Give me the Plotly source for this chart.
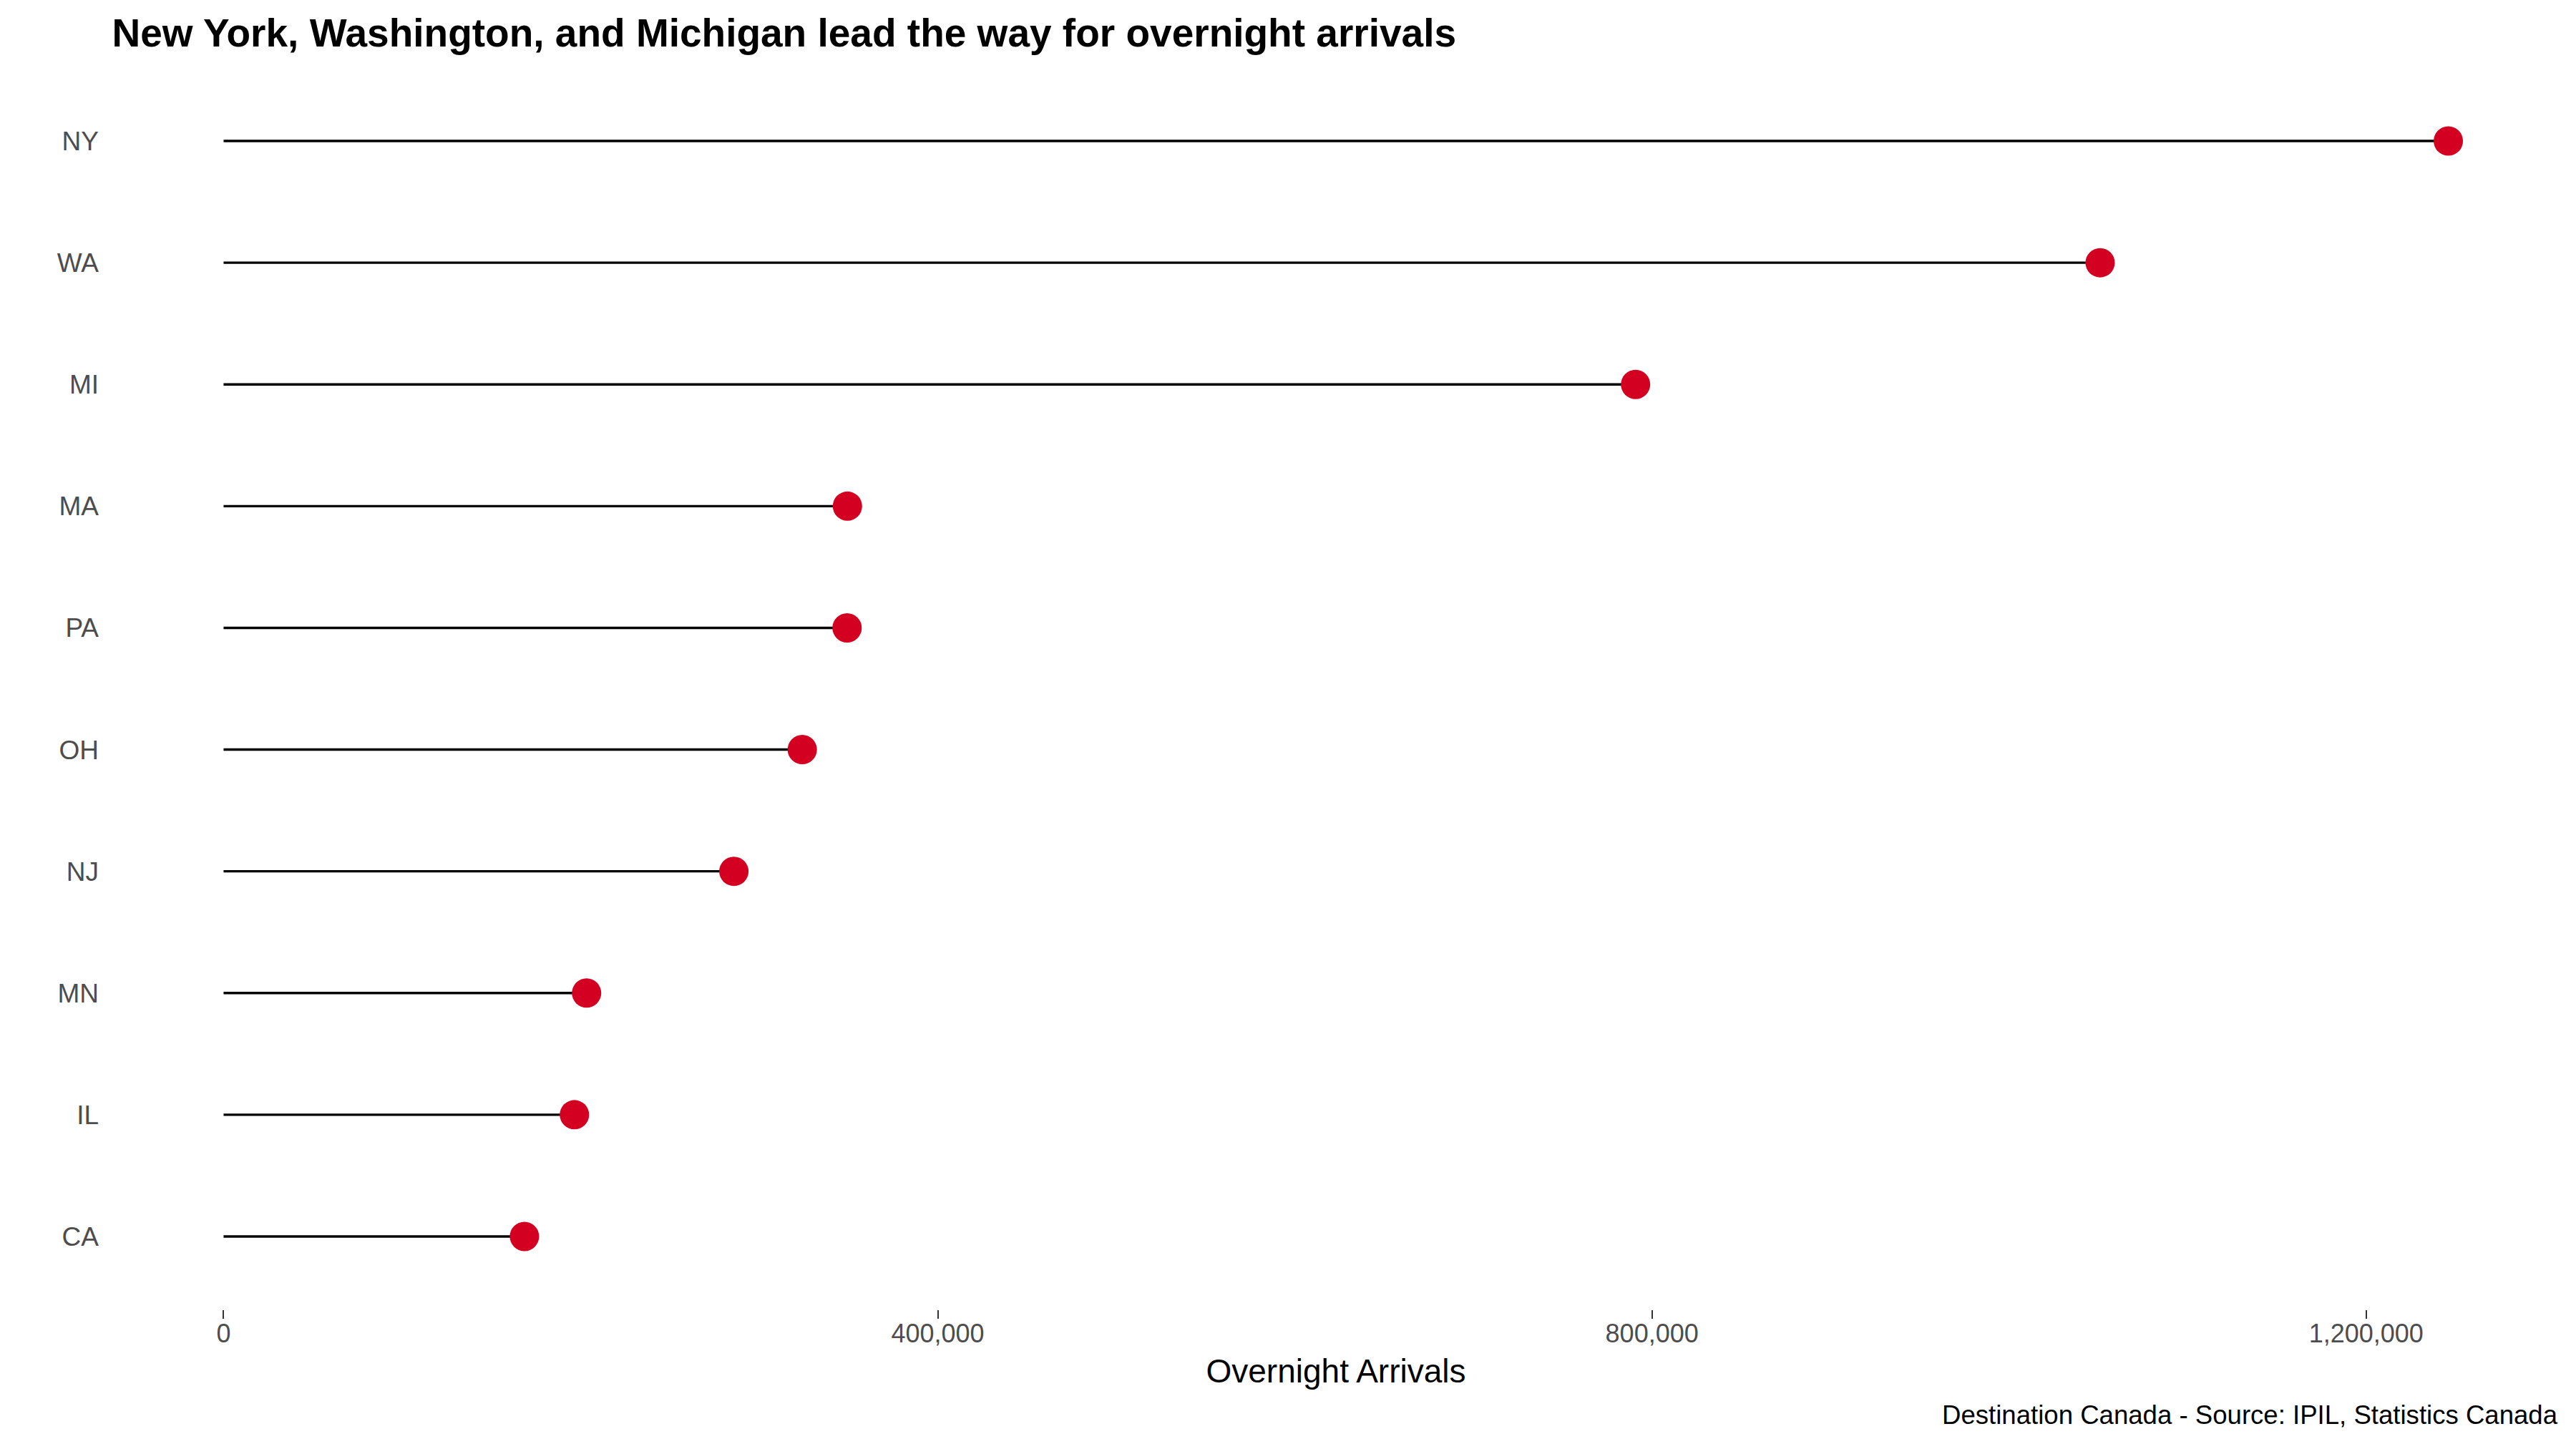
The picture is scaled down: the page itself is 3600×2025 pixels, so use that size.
import plotly.graph_objects as go

states = ["NY", "WA", "MI", "MA", "PA", "OH", "NJ", "MN", "IL", "CA"]
arrivals = [1246000, 1051000, 790800, 349400, 349200, 324100, 285800, 203300, 196500, 168500]
x_tickvals = [0, 400000, 800000, 1200000]
x_ticktext = ["0", "400,000", "800,000", "1,200,000"]

title_text = "New York, Washington, and Michigan lead the way for overnight arrivals"
x_title = "Overnight Arrivals"
caption = "Destination Canada - Source: IPIL, Statistics Canada"

FONT = "Liberation Sans, Arial, Helvetica, sans-serif"
OFF = 8  # page body margin offset
W, H = 3600 - OFF, 2025 - OFF
L, R, T, B = 156.5 - OFF, 23, 95 - OFF, 195

seg_x, seg_y = [], []
for s, v in zip(states, arrivals):
    seg_x += [0, v, None]
    seg_y += [s, s, None]

fig = go.Figure()
fig.add_trace(go.Scatter(x=seg_x, y=seg_y, mode="lines",
                         line=dict(color="black", width=3.4),
                         hoverinfo="skip", showlegend=False))
fig.add_trace(go.Scatter(x=arrivals, y=states, mode="markers",
                         marker=dict(color="#D40021", size=41, line=dict(width=0)),
                         showlegend=False))

xmax = max(arrivals)
pad = 0.05 * xmax
fig.update_layout(
    width=W, height=H,
    margin=dict(l=L, r=R, t=T, b=B, pad=0),
    paper_bgcolor="white", plot_bgcolor="white",
    font=dict(family=FONT, color="black"),
    title=dict(text="<b>" + title_text + "</b>", font=dict(family=FONT, size=55, color="black"),
               x=L / W, xref="container", xanchor="left",
               y=1 - 18 / H, yref="container", yanchor="top"),
    xaxis=dict(range=[-pad, xmax + pad], tickvals=x_tickvals, ticktext=x_ticktext,
               showgrid=False, zeroline=False, showline=False,
               ticks="outside", ticklen=12, tickwidth=2, tickcolor="#333333",
               ticklabelstandoff=-10,
               tickfont=dict(family=FONT, size=36, color="#4D4D4D"),
               title=dict(text=x_title, font=dict(family=FONT, size=46, color="black"), standoff=16)),
    yaxis=dict(type="category", categoryorder="array", categoryarray=states[::-1],
               range=[-0.6, len(states) - 0.4],
               showgrid=False, zeroline=False, showline=False, ticks="",
               ticklabelstandoff=18,
               tickfont=dict(family=FONT, size=37, color="#4D4D4D")),
)
fig.add_annotation(text=caption, xref="paper", yref="paper", x=1, y=0,
                   xanchor="right", yanchor="top", yshift=-124.5, showarrow=False,
                   font=dict(family=FONT, size=36.6, color="black"))

fig.write_html("out.html")
